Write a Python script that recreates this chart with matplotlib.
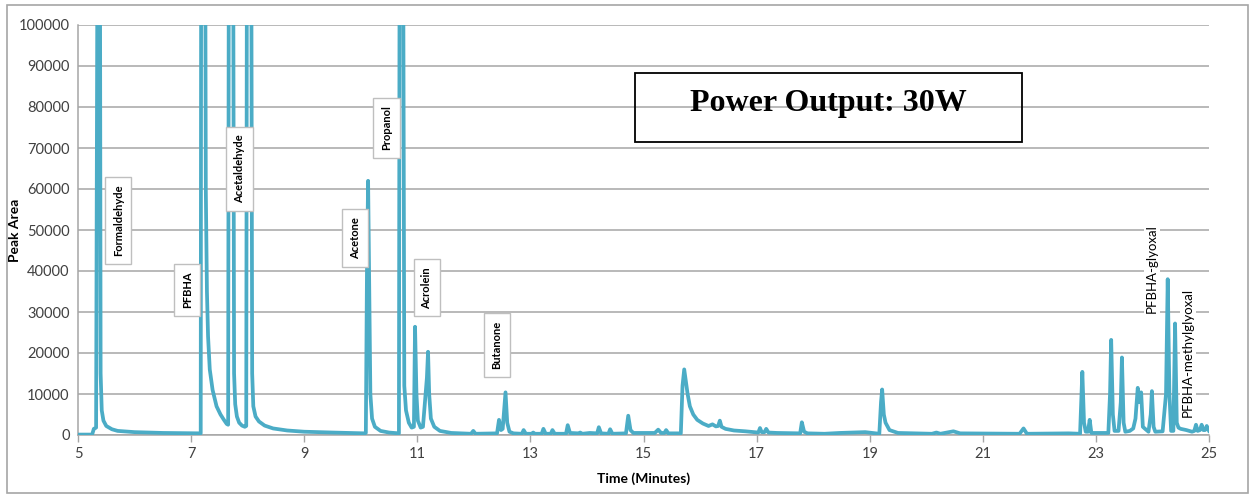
import matplotlib.pyplot as plt
from matplotlib.patches import Rectangle

# chromatogram trace (minutes, peak area)
time_min = [
    5.00, 5.25, 5.28, 5.32, 5.35, 5.385, 5.40, 5.42, 5.45, 5.50, 5.60, 5.70, 6.00, 6.50,
    7.17, 7.18, 7.245, 7.26, 7.28, 7.30, 7.33, 7.38, 7.45, 7.52, 7.58, 7.63, 7.655,
    7.67, 7.74, 7.76, 7.78, 7.81, 7.85, 7.90, 7.95, 7.975,
    7.99, 8.06, 8.08, 8.10, 8.14, 8.20, 8.30, 8.45, 8.70, 9.00, 9.50, 10.07,
    10.09, 10.11, 10.13, 10.15, 10.17, 10.20, 10.25, 10.35, 10.50, 10.675,
    10.69, 10.745, 10.77, 10.80, 10.85, 10.90, 10.94, 10.96, 10.985, 11.01, 11.06,
    11.10, 11.17, 11.19, 11.21, 11.24, 11.30, 11.40, 11.60, 11.95, 11.99, 12.03,
    12.41, 12.445, 12.48, 12.51, 12.56, 12.59, 12.63, 12.70, 12.85, 12.88, 12.92,
    13.02, 13.05, 13.08, 13.20, 13.23, 13.27, 13.36, 13.39, 13.43, 13.63, 13.66, 13.70,
    13.85, 13.88, 13.92, 14.05, 14.18, 14.21, 14.25, 14.38, 14.41, 14.45,
    14.69, 14.73, 14.77, 14.82, 15.20, 15.26, 15.31, 15.37, 15.40, 15.44,
    15.66, 15.69, 15.72, 15.75, 15.78, 15.82, 15.88, 15.95, 16.05, 16.15, 16.22, 16.28,
    16.32, 16.35, 16.38, 16.45, 16.60, 16.80, 17.03, 17.06, 17.09, 17.14, 17.17, 17.21,
    17.36, 17.70, 17.77, 17.80, 17.84, 17.90, 18.20, 18.47, 18.71, 18.92,
    19.17, 19.20, 19.22, 19.25, 19.28, 19.35, 19.50, 20.10, 20.18, 20.25, 20.33, 20.48,
    20.60, 21.65, 21.72, 21.78, 22.52, 22.72, 22.74, 22.76, 22.79, 22.82, 22.86, 22.89,
    22.92, 23.22, 23.25, 23.27, 23.30, 23.33, 23.40, 23.44, 23.46, 23.49, 23.52,
    23.60, 23.66, 23.70, 23.74, 23.77, 23.80, 23.83, 23.87, 23.93, 23.97, 23.99, 24.02,
    24.05, 24.18, 24.24, 24.27, 24.30, 24.33, 24.37, 24.40, 24.43, 24.46, 24.50,
    24.60, 24.70, 24.74, 24.77, 24.80, 24.84, 24.87, 24.90, 24.93, 24.96, 24.98, 25.00,
]
peak_area = [
    100, 100, 1500, 1800, 150000, 150000, 15000, 6000, 3500, 2200, 1400, 1000, 700, 500,
    400, 150000, 150000, 60000, 35000, 24000, 16000, 11000, 7000, 5000, 3700, 2700, 2500,
    150000, 150000, 15000, 7500, 4500, 3000, 2300, 2000, 2200,
    150000, 150000, 15000, 7000, 4500, 3300, 2300, 1600, 1100, 800, 600, 400,
    500, 40000, 62000, 35000, 10000, 4000, 2000, 1000, 600, 400,
    150000, 150000, 12000, 6000, 3000, 1800, 2000, 26400, 10000, 3500, 1800,
    2000, 14000, 20300, 10000, 4000, 2000, 1000, 500, 300, 1000, 300,
    400, 3700, 1200, 1500, 10400, 3000, 800, 400, 300, 1200, 300,
    300, 600, 300, 300, 1500, 300, 300, 1200, 300, 300, 2400, 500,
    400, 600, 300, 500, 400, 1900, 400, 300, 1400, 300,
    400, 4700, 1200, 500, 500, 1300, 500, 500, 1200, 400,
    400, 12000, 16000, 13000, 10000, 7000, 5000, 3700, 2800, 2200, 2600, 2100,
    2200, 3500, 2000, 1500, 1100, 900, 600, 1700, 700, 700, 1500, 600,
    500, 400, 400, 3100, 800, 400, 300, 500, 600, 700,
    300, 8000, 11100, 5000, 3000, 1200, 500, 300, 600, 300, 500, 900,
    400, 300, 1600, 300, 400, 300, 8000, 15400, 3000, 800, 800, 3700,
    500, 500, 10000, 23200, 5000, 1000, 1000, 8000, 18900, 3000, 800,
    1000, 1600, 4000, 11500, 8000, 10400, 2000, 1500, 800, 5000, 10700, 2000,
    800, 900, 10000, 38000, 10000, 1000, 1000, 27200, 3000, 1800, 1500,
    1200, 800, 1000, 2500, 1000, 1200, 2500, 1200, 1200, 2200, 1500, 1000,
]

# peak labels: text, x (min), y (area), boxed or not
label_text = ["Formaldehyde", "PFBHA", "Acetaldehyde", "Acetone", "Propanol",
              "Acrolein", "Butanone", "PFBHA-glyoxal", "PFBHA-methylglyoxal"]
label_x = [5.71, 6.93, 7.86, 9.90, 10.46, 11.17, 12.41, 23.99, 24.63]
label_y = [52400, 35400, 64900, 48000, 74900, 35900, 22000, 40500, 20200]
label_boxed = [True, True, True, True, True, True, True, False, False]

x_ticks = [5, 7, 9, 11, 13, 15, 17, 19, 21, 23, 25]
y_ticks = list(range(0, 100001, 10000))

line_color = "#4BACC6"
grid_color = "#A6A6A6"

plt.rcParams["font.family"] = ["Lato", "DejaVu Sans"]

fig = plt.figure(figsize=(12.54, 4.95), dpi=100)
ax = fig.add_axes([78 / 1254, 60 / 495, 1131 / 1254, 410 / 495])

ax.plot(time_min, peak_area, color=line_color, lw=2.7, solid_joinstyle="round", zorder=3)

ax.set_xlim(5, 25)
ax.set_ylim(0, 100000)
ax.set_xticks(x_ticks)
ax.set_yticks(y_ticks)
ax.set_yticklabels([str(v) for v in y_ticks])
ax.tick_params(axis="y", length=0, labelsize=10.5, pad=6, colors="#404040")
ax.tick_params(axis="x", length=5, width=1, color=grid_color, labelsize=10.5, pad=4,
               labelcolor="#404040")
ax.grid(axis="y", color=grid_color, lw=1.1, zorder=0)
ax.set_axisbelow(True)
for side in ["top", "right"]:
    ax.spines[side].set_visible(False)
for side in ["left", "bottom"]:
    ax.spines[side].set_color(grid_color)
    ax.spines[side].set_linewidth(1.1)

ax.set_xlabel("Time (Minutes)", fontsize=10, fontweight="bold", labelpad=8)
ax.set_ylabel("Peak Area", fontsize=10, fontweight="bold")
ax.yaxis.set_label_coords(-0.05, 0.5)

for txt, lx, ly, boxed in zip(label_text, label_x, label_y, label_boxed):
    if boxed:
        box = dict(boxstyle="square,pad=0.7", fc="white", ec="#BFBFBF", lw=1)
        ax.text(lx, ly, txt, rotation=90, ha="center", va="center", fontsize=8,
                fontweight="bold", bbox=box, zorder=4)
    else:
        box = dict(boxstyle="square,pad=0.15", fc="white", ec="none")
        ax.text(lx, ly, txt, rotation=90, ha="center", va="center", fontsize=9.5,
                bbox=box, zorder=2)

# title box
fig.text(828 / 1254, 1 - 103 / 495, "Power Output: 30W", ha="center", va="center",
         fontsize=23, fontweight="bold", family="Liberation Serif")
fig.patches.append(Rectangle((635 / 1254, 1 - 142 / 495), 387 / 1254, 69 / 495,
                             transform=fig.transFigure, fill=True, fc="none",
                             ec="black", lw=1.3, zorder=5))

# outer chart border
fig.patches.append(Rectangle((7 / 1254, 2 / 495), 1241 / 1254, 488 / 495,
                             transform=fig.transFigure, fill=False, ec="#A6A6A6", lw=1.2))

fig.savefig("out.png", dpi=100)
